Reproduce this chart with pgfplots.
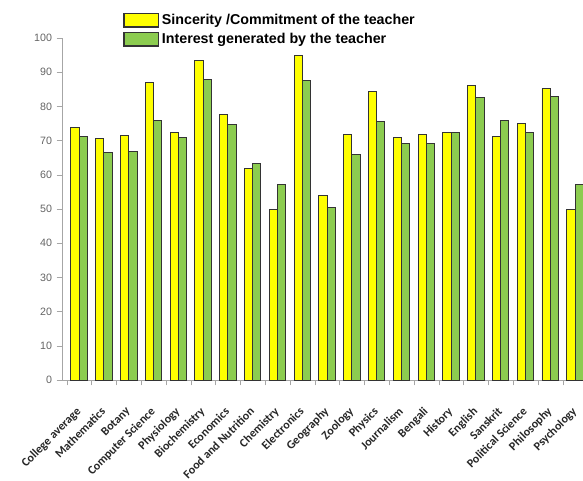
\documentclass[border=0pt]{standalone}
\usepackage{pgfplots}
\pgfplotsset{compat=1.18}
\usepackage{fontspec}
\setmainfont{Liberation Sans}
\newfontfamily\labfont{Carlito}
\definecolor{cyel}{RGB}{255,255,0}
\definecolor{cgrn}{RGB}{140,204,80}
\definecolor{cgray}{RGB}{100,100,100}
\begin{document}
\begin{tikzpicture}
\path[use as bounding box] (0,0) rectangle (437.25pt,360.75pt);
\begin{axis}[
  at={(46.5pt,75.75pt)}, anchor=south west,
  scale only axis, width=390.75pt, height=256.5pt,
  ybar=0pt, bar width=6.2pt,
  xmin=-0.69, xmax=20.32, ymin=0, ymax=100,
  axis x line=bottom, axis y line=left,
  axis line style={-, draw=gray!70},
  tick align=outside,
  ytick={0,10,...,100},
  yticklabel style={font=\fontsize{8}{9}\selectfont, text=cgray},
  /pgf/number format/assume math mode=true,
  xtick={0,...,20},
  major x tick style={draw=none},
  minor xtick={-0.5,0.5,...,20.5},
  minor tick length=4pt,
  minor x tick style={draw=gray!70},
  major y tick style={draw=gray!70},
  major tick length=4pt,
  xticklabels={College average,Mathematics,Botany,Computer Science,Physiology,Biochemistry,Economics,Food and Nutrition,Chemistry,Electronics,Geography,Zoology,Physics,Journalism,Bengali,History,English,Sanskrit,Political Science,Philosophy,Psychology},
  xticklabel style={rotate=45, anchor=north east, font=\labfont\fontsize{9}{10}\bfseries, text=black!85, inner sep=1pt, xshift=-12pt, yshift=-8pt},
  clip=false,
  legend style={at={(axis description cs:0.117,1.078)}, anchor=north west, draw=none, fill=none,
    font=\fontsize{10.7}{12}\selectfont\bfseries, row sep=1pt, inner sep=0pt},
  legend cell align=left,
  legend image code/.code={\draw[#1, line width=1pt] (0pt,-5pt) rectangle (26pt,5pt);},
]
\addplot[fill=cyel, draw=black!80, line width=0.7pt] coordinates {
(0,73.7) (1,70.5) (2,71.6) (3,87) (4,72.5) (5,93.4) (6,77.6) (7,61.9) (8,49.9) (9,95)
(10,53.9) (11,71.8) (12,84.3) (13,71) (14,71.8) (15,72.4) (16,86) (17,71.3) (18,75) (19,85.3) (20,49.9)};
\addplot[fill=cgrn, draw=black!80, line width=0.7pt] coordinates {
(0,71.3) (1,66.5) (2,66.8) (3,75.8) (4,70.9) (5,88) (6,74.6) (7,63.4) (8,57.2) (9,87.7)
(10,50.5) (11,66) (12,75.6) (13,69.2) (14,69.2) (15,72.4) (16,82.7) (17,75.8) (18,72.4) (19,82.9) (20,57.1)};
\legend{Sincerity /Commitment of the teacher, Interest generated by the teacher}
\end{axis}
\end{tikzpicture}
\end{document}
